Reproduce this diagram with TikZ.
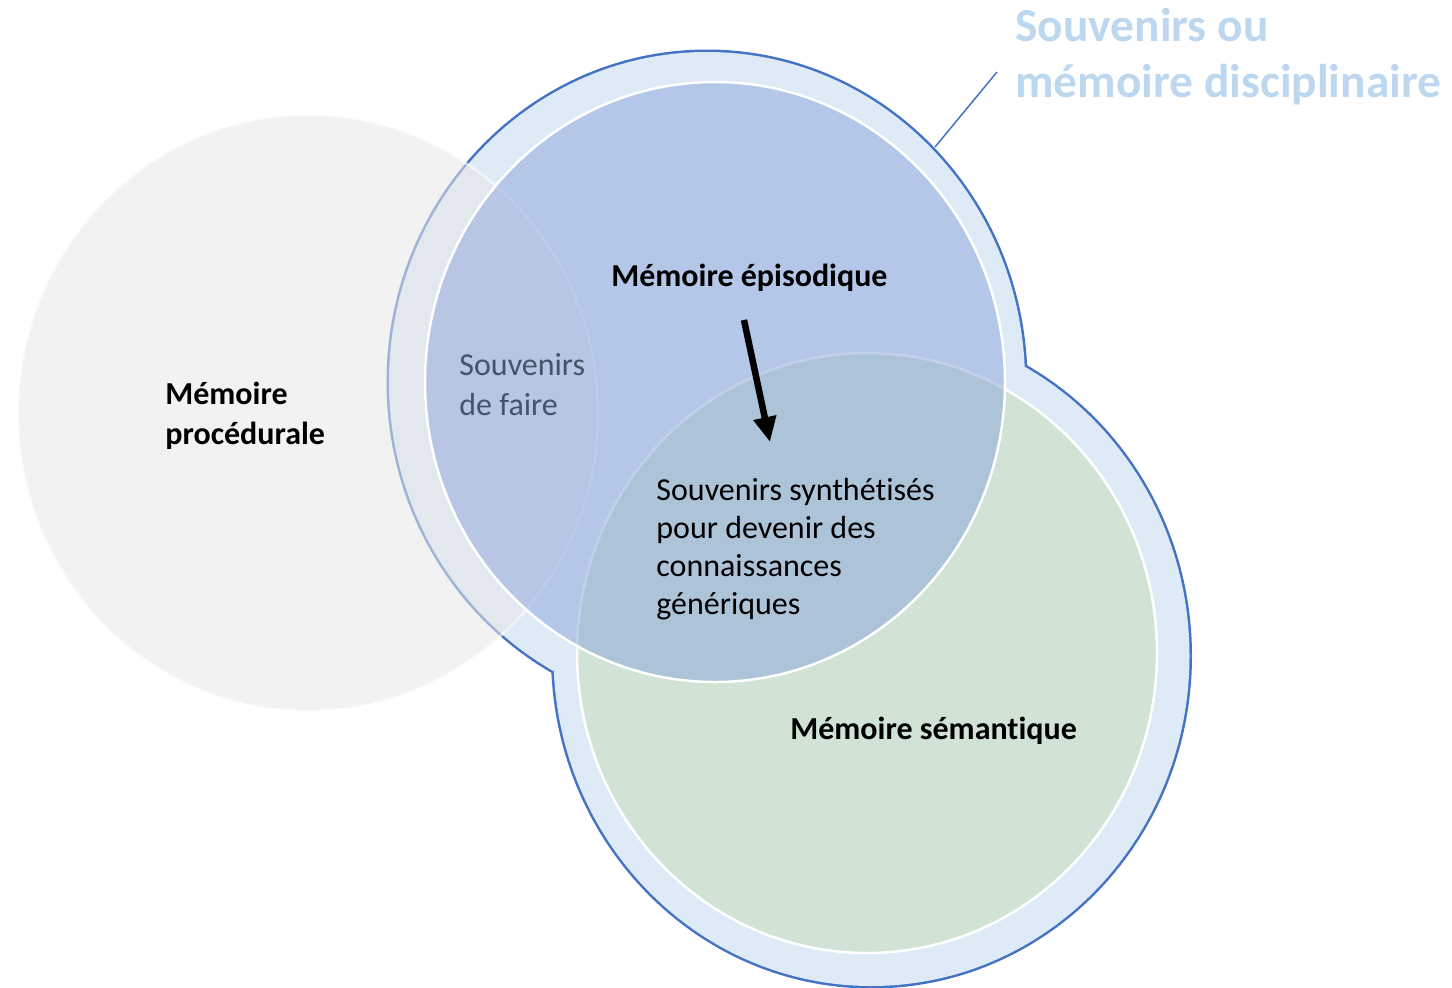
\documentclass[tikz,border=0pt]{standalone}
\usepackage{fontspec}
\setmainfont{Carlito}[Ligatures={NoCommon}]
\usetikzlibrary{arrows.meta}

\definecolor{anneau}{HTML}{DEEBF7}
\definecolor{contour}{HTML}{4472C4}
\definecolor{gris}{HTML}{E7E7E7}
\definecolor{bleu}{RGB}{146,171,220}
\definecolor{vert}{RGB}{208,227,213}
\definecolor{titre}{HTML}{BDD7EE}
\definecolor{ardoise}{HTML}{44546A}

\tikzset{
  texte/.style={font=\fontsize{16}{19}\selectfont, inner sep=0pt, anchor=base west, align=left},
  gras/.style={texte, font=\fontsize{16}{20}\selectfont\bfseries},
  grandtitre/.style={inner sep=0pt, anchor=base west, align=left, text=titre,
    font=\fontsize{23.7}{28}\selectfont\bfseries},
}

\begin{document}
\begin{tikzpicture}[x=0.5pt, y=-0.5pt]
    \def \rx {290}
    \def \ry {300}
    \def \ringx {318}
    \def \ringy {330}
    \useasboundingbox (0,0) rectangle (1452,987);
    % anneaux exterieurs: contour puis remplissage (le contour ne reste que dehors)
    \foreach \cx/\cy in {707/382, 871.5/656}
    {
      \draw[contour, line width=2.5pt] (\cx,\cy) ellipse [x radius=\ringx, y radius=\ringy];
    }
    \foreach \cx/\cy in {707/382, 871.5/656}
    {
      \fill[anneau] (\cx,\cy) ellipse [x radius=\ringx, y radius=\ringy];
    }
    % les trois memoires
    \filldraw[fill=gris, draw=white, opacity=0.55, line width=1.25pt]
      (308,413) ellipse [x radius=290, y radius=298];
    \filldraw[fill=vert, draw=white, line width=1.25pt]
      (867,653) ellipse [x radius=\rx, y radius=\ry];
    \fill[bleu, fill opacity=0.55] (715,382) ellipse [x radius=\rx, y radius=\ry];
    \draw[white, line width=1.25pt] (715,382) ellipse [x radius=\rx, y radius=\ry];

    % base = derniere ligne du texte
    \node[gras] (episodique) at (611,286) {Mémoire épisodique};
    \node[gras] (semantique) at (790,739) {Mémoire sémantique};
    \node[gras] (procedurale) at (165,444) {Mémoire\\procédurale};
    \node[texte, text=ardoise, font=\fontsize{16}{20}\selectfont] (faire) at (459,415) {Souvenirs\\de faire};
    \node[texte] (synthese) at (656,614)
      {Souvenirs synthétisés\\pour devenir des\\connaissances\\génériques};
    \node[grandtitre] (disciplinaire) at (1015,97) {Souvenirs ou\\mémoire disciplinaire};

    \coordinate (fleche-haut) at (744,320);
    \coordinate (fleche-bas) at (770,442);
    \draw[-{Triangle[width=11pt,length=12.5pt]}, line width=3.25pt] (fleche-haut) -- (fleche-bas);

    \coordinate (anneau-bord) at (935,147);
    \coordinate (titre-lien) at (997,72);
    \draw[contour, line width=0.75pt] (anneau-bord) -- (titre-lien);
\end{tikzpicture}
\end{document}
